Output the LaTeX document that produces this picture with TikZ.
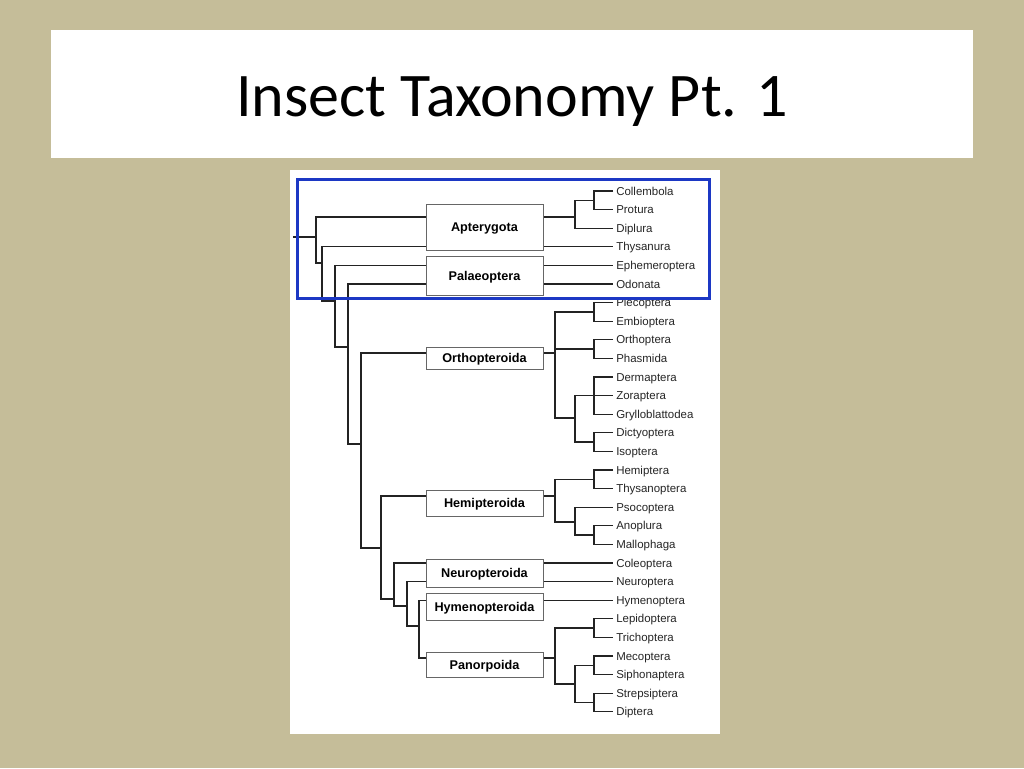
\documentclass[tikz,border=0pt]{standalone}
\usepackage{fontspec}
\setmainfont{Carlito}
\newfontfamily\arialf{Liberation Sans}
\definecolor{bgtan}{RGB}{197,189,153}
\definecolor{frameblue}{RGB}{28,56,196}
\definecolor{edgecol}{RGB}{35,35,35}
\begin{document}
\begin{tikzpicture}[x=0.75pt,y=-0.75pt,
  leaf/.style={anchor=west, inner xsep=2.25pt, inner ysep=0pt, text height=6.2pt, text depth=0pt, font=\arialf\fontsize{8.6pt}{10pt}\selectfont, text=black!85},
  clade/.style={draw=black!60, fill=white, line width=0.6pt, minimum width=87.75pt, inner sep=0pt, text height=6.9pt, text depth=0pt, font=\arialf\bfseries\fontsize{9.5pt}{11pt}\selectfont},
  branch/.style={draw=edgecol, line width=1pt},
  panel/.style={fill=white, draw=none}]
% background and panels
\useasboundingbox[fill=bgtan] (0,0) rectangle (1024,768);
\path[panel] (51,30) rectangle (973,158);
\path[panel] (290,170) rectangle (720,734);
\node[anchor=base, inner sep=0pt, font=\fontsize{46.5pt}{50pt}\selectfont] (title) at (512,116) {Insect Taxonomy Pt. 1};
% leaves
\foreach \n [count=\i from 0] in {Collembola,Protura,Diplura,Thysanura,Ephemeroptera,Odonata,Plecoptera,Embioptera,Orthoptera,Phasmida,Dermaptera,Zoraptera,Grylloblattodea,Dictyoptera,Isoptera,Hemiptera,Thysanoptera,Psocoptera,Anoplura,Mallophaga,Coleoptera,Neuroptera,Hymenoptera,Lepidoptera,Trichoptera,Mecoptera,Siphonaptera,Strepsiptera,Diptera}
  \node[leaf] (L\i) at (613,{191+18.6*\i}) {\n};
% internal points, left spine
\coordinate (stub) at (293,237);
\coordinate (r0) at (316,237);
\coordinate (r1) at (322,263);
\coordinate (r2) at (335,301);
\coordinate (r3) at (348,347);
\coordinate (r4) at (361,444);
\coordinate (r5) at (381,548);
\coordinate (r6) at (394,599);
\coordinate (r7) at (407,606);
\coordinate (r8) at (419,626);
% right side
\coordinate (a0) at (575,217);
\coordinate (a1) at (594,200.3);
\coordinate (o0) at (555,353);
\coordinate (o1) at (594,311.9);
\coordinate (o2) at (594,349.1);
\coordinate (o3) at (575,418);
\coordinate (o4) at (594,395.6);
\coordinate (o5) at (594,442.1);
\coordinate (h0) at (555,496);
\coordinate (h1) at (594,479.3);
\coordinate (h2) at (575,522);
\coordinate (h3) at (594,535.1);
\coordinate (p0) at (555,658);
\coordinate (p1) at (594,628.1);
\coordinate (p2) at (575,684);
\coordinate (p3) at (594,665.3);
\coordinate (p4) at (594,702.5);
% spine
\draw[branch] (stub) -- (r0);
\draw[branch] (r0) |- (a0);
\draw[branch] (r0) |- (r1);
\draw[branch] (r1) |- (L3.west);
\draw[branch] (r1) |- (r2);
\draw[branch] (r2) |- (L4.west);
\draw[branch] (r2) |- (r3);
\draw[branch] (r3) |- (L5.west);
\draw[branch] (r3) |- (r4);
\draw[branch] (r4) |- (o0);
\draw[branch] (r4) |- (r5);
\draw[branch] (r5) |- (h0);
\draw[branch] (r5) |- (r6);
\draw[branch] (r6) |- (L20.west);
\draw[branch] (r6) |- (r7);
\draw[branch] (r7) |- (L21.west);
\draw[branch] (r7) |- (r8);
\draw[branch] (r8) |- (L22.west);
\draw[branch] (r8) |- (p0);
% Apterygota
\draw[branch] (L0.west) -| (a1) |- (L1.west);
\draw[branch] (a0) |- (a1);
\draw[branch] (a0) |- (L2.west);
% Orthopteroida
\draw[branch] (o0) |- (o1);
\draw[branch] (o0) |- (o2);
\draw[branch] (o0) |- (o3);
\draw[branch] (L6.west) -| (o1) |- (L7.west);
\draw[branch] (L8.west) -| (o2) |- (L9.west);
\draw[branch] (o3) |- (L11.west);
\draw[branch] (o3) |- (o5);
\draw[branch] (L10.west) -| (o4) |- (L12.west);
\draw[branch] (L13.west) -| (o5) |- (L14.west);
% Hemipteroida
\draw[branch] (h0) |- (h1);
\draw[branch] (h0) |- (h2);
\draw[branch] (L15.west) -| (h1) |- (L16.west);
\draw[branch] (h2) |- (L17.west);
\draw[branch] (h2) |- (h3);
\draw[branch] (L18.west) -| (h3) |- (L19.west);
% Panorpoida
\draw[branch] (p0) |- (p1);
\draw[branch] (p0) |- (p2);
\draw[branch] (L23.west) -| (p1) |- (L24.west);
\draw[branch] (p2) |- (p3);
\draw[branch] (p2) |- (p4);
\draw[branch] (L25.west) -| (p3) |- (L26.west);
\draw[branch] (L27.west) -| (p4) |- (L28.west);
% clade boxes
\node[clade, minimum height=34.5pt] (apt) at (484.5,227) {Apterygota};
\node[clade, minimum height=29.25pt] (pal) at (484.5,275.5) {Palaeoptera};
\node[clade, minimum height=16.5pt] (ort) at (484.5,358) {Orthopteroida};
\node[clade, minimum height=19.5pt] (hem) at (484.5,503) {Hemipteroida};
\node[clade, minimum height=21pt] (neu) at (484.5,573) {Neuropteroida};
\node[clade, minimum height=20.25pt] (hym) at (484.5,606.5) {Hymenopteroida};
\node[clade, minimum height=18.75pt] (pan) at (484.5,664.5) {Panorpoida};
% blue highlight frame
\draw[frameblue, line width=2.25pt] (297,179) rectangle (709,298);
\end{tikzpicture}
\end{document}
